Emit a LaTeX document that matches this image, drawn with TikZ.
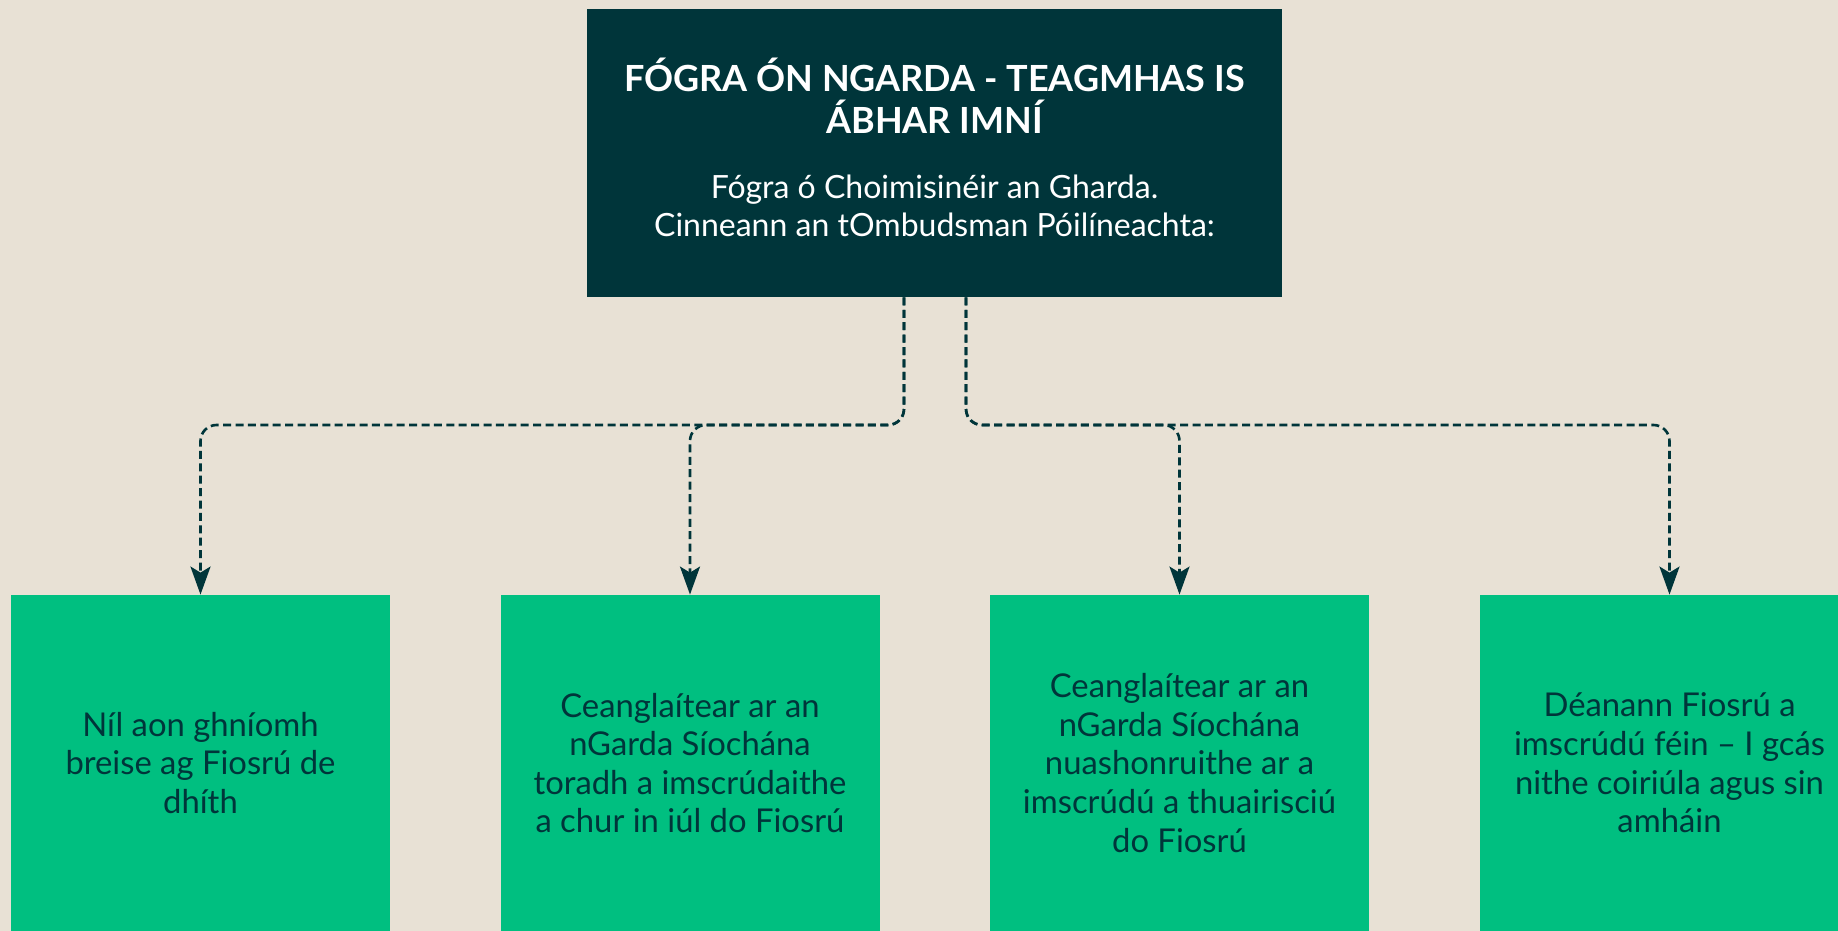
\documentclass[tikz,border=0pt]{standalone}
\usepackage{fontspec}
\setmainfont{Lato}
\usetikzlibrary{arrows.meta}

\definecolor{paper}{HTML}{E8E1D5}
\definecolor{deepteal}{HTML}{00353A}
\definecolor{mint}{HTML}{00BF80}

\tikzstyle{notice} = [rectangle, fill=deepteal, inner sep=0pt, minimum width=347.5pt, minimum height=144pt]
\tikzstyle{answer} = [rectangle, fill=mint, text=deepteal, inner sep=0pt, minimum width=189.5pt, minimum height=168pt, align=center, font=\fontsize{16.4}{19.3}\selectfont]
\tikzstyle{flow} = [draw=deepteal, line width=1.3pt, dash pattern=on 4pt off 2.2pt, rounded corners=8pt, -{Stealth[length=14pt, width=10pt, inset=3pt]}]

\begin{document}
\begin{tikzpicture}[x=0.5pt, y=-0.5pt]
			\fill[paper] (0,0) rectangle (1838,931);
			\clip (0,0) rectangle (1838,931);
			\node[notice] (top) at (934.5,153) {};
			\node[text=white, align=center, font=\fontsize{18}{21}\selectfont\bfseries] (title) at (934.5,96) {FÓGRA ÓN NGARDA - TEAGMHAS IS\\ÁBHAR IMNÍ};
			\node[text=white, align=center, font=\fontsize{16}{18.75}\selectfont] (sub) at (934.5,206) {Fógra ó Choimisinéir an Gharda.\\Cinneann an tOmbudsman Póilíneachta:};
			\node[answer] (a1) at (200.5,763) {Níl aon ghníomh\\breise ag Fiosrú de\\dhíth};
			\node[answer] (a2) at (690,763) {Ceanglaítear ar an\\nGarda Síochána\\toradh a imscrúdaithe\\a chur in iúl do Fiosrú};
			\node[answer] (a3) at (1179.5,763) {Ceanglaítear ar an\\nGarda Síochána\\nuashonruithe ar a\\imscrúdú a thuairisciú\\do Fiosrú};
			\node[answer] (a4) at (1669.5,763) {Déanann Fiosrú a\\imscrúdú féin – I gcás\\nithe coiriúla agus sin\\amháin};
			\coordinate (lsplit) at (904,425);
			\coordinate (rsplit) at (966,425);
			\draw[flow] (top.south -| lsplit) -- (lsplit) -| (a1.north);
			\draw[flow] (top.south -| lsplit) -- (lsplit) -| (a2.north);
			\draw[flow] (top.south -| rsplit) -- (rsplit) -| (a3.north);
			\draw[flow] (top.south -| rsplit) -- (rsplit) -| (a4.north);
		\end{tikzpicture}
\end{document}
